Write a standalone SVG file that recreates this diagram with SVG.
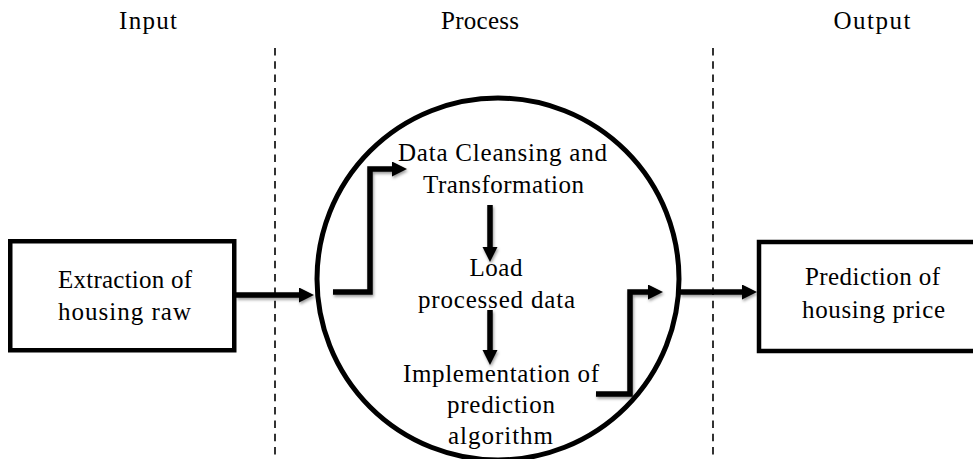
<svg xmlns="http://www.w3.org/2000/svg" width="973" height="459" viewBox="0 0 973 459">
  <style>
    .lbl { font-family: "Liberation Serif", "Times New Roman", serif; font-size: 25px; fill: #000; text-anchor: middle; }
    .box { fill: #fff; stroke: #000; stroke-width: 4.5; }
    .sep { stroke: #000; stroke-width: 1.6; stroke-dasharray: 7.5 5.8; fill: none; }
    .flow { stroke: #000; stroke-width: 5.5; fill: none; stroke-linejoin: miter; marker-end: url(#head); }
  </style>
  <defs>
    <marker id="head" markerUnits="userSpaceOnUse" markerWidth="16" markerHeight="16" refX="3" refY="7.5" orient="auto">
      <path d="M0,0 L15,7.5 L0,15 Z" fill="#000"/>
    </marker>
    <filter id="shade" x="-20%" y="-20%" width="140%" height="140%">
      <feDropShadow dx="1" dy="2" stdDeviation="1.5" flood-color="#000" flood-opacity="0.4"/>
    </filter>
  </defs>

  <rect width="973" height="459" fill="#fff"/>

  <!-- stage headings -->
  <g id="headings">
    <text class="lbl" x="148" y="29" textLength="58">Input</text>
    <text class="lbl" x="480" y="29" textLength="78">Process</text>
    <text class="lbl" x="872" y="29" textLength="77">Output</text>
  </g>

  <!-- dashed stage separators -->
  <g id="separators">
    <line class="sep" x1="275" y1="48" x2="275" y2="459"/>
    <line class="sep" x1="713" y1="48" x2="713" y2="459"/>
  </g>

  <g id="input-node">
    <rect class="box" x="10.25" y="241.25" width="224" height="109"/>
    <text class="lbl" x="125" y="288" textLength="134">Extraction of</text>
    <text class="lbl" x="124.5" y="320" textLength="133">housing raw</text>
  </g>

  <g id="process-node">
    <circle cx="498" cy="279" r="181" fill="none" stroke="#000" stroke-width="5"/>
  </g>

  <g id="cleansing-step">
    <text class="lbl" x="502.5" y="161" textLength="209">Data Cleansing and</text>
    <text class="lbl" x="503.5" y="193" textLength="161">Transformation</text>
  </g>

  <g id="load-step">
    <text class="lbl" x="496" y="276" textLength="53">Load</text>
    <text class="lbl" x="496.5" y="308" textLength="157">processed data</text>
  </g>

  <g id="algorithm-step">
    <text class="lbl" x="501" y="382" textLength="196">Implementation of</text>
    <text class="lbl" x="501" y="413" textLength="108">prediction</text>
    <text class="lbl" x="500.5" y="444" textLength="105">algorithm</text>
  </g>

  <g id="output-node">
    <rect class="box" x="759" y="242" width="230" height="109"/>
    <text class="lbl" x="872.5" y="285" textLength="135">Prediction of</text>
    <text class="lbl" x="873.5" y="318" textLength="143">housing price</text>
  </g>

  <!-- connectors -->
  <g id="connectors" filter="url(#shade)">
    <path class="flow" d="M236,295 H302"/>
    <path class="flow" d="M333,292 H370 V169 H395"/>
    <path class="flow" d="M490,205 V250"/>
    <path class="flow" d="M490,310 V353"/>
    <path class="flow" d="M596,394 H630 V292 H651"/>
    <path class="flow" d="M680,292 H745"/>
  </g>
</svg>
